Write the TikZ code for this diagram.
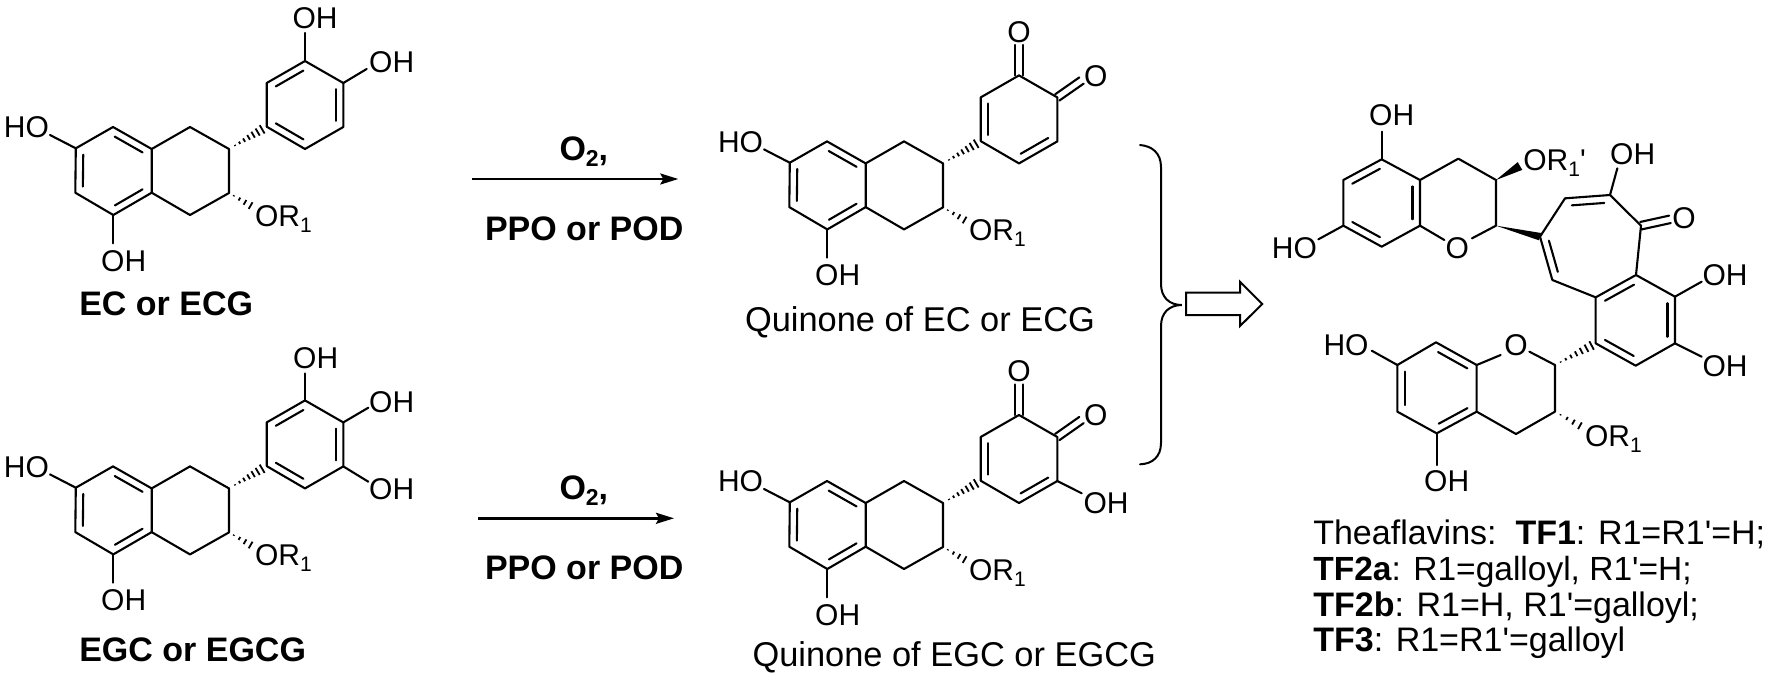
\documentclass[tikz,border=0pt]{standalone}
\usepackage{fontspec}
\usetikzlibrary{calc,arrows.meta}
\newfontfamily\lib{Liberation Sans}
\newcommand\bd[2]{\draw[bond] (#1)--(#2);}
\newcommand\ib[2]{\draw[bond] ($(#1)!.14!(#2)!7.5pt!90:(#2)$)--($(#2)!.14!(#1)!7.5pt!-90:(#1)$);}
\newcommand\dbo[2]{\draw[bond] ($(#1)!3.8pt!90:(#2)$)--($(#2)!3.8pt!-90:(#1)$);\draw[bond] ($(#1)!3.8pt!-90:(#2)$)--($(#2)!3.8pt!90:(#1)$);}
% #1 from, #2 to, #3 start frac, #4 end frac, #5 intervals, #6 max half width (pt)
\newcommand\hashw[6]{\foreach \i in {0,...,#5}{%
  \pgfmathsetmacro\tt{#3+(#4-#3)*\i/#5}%
  \pgfmathsetmacro\ww{0.6+(#6-0.6)*\i/#5}%
  \draw[hashl] ($(#1)!\tt!(#2)!\ww pt!90:(#2)$)--($(#1)!\tt!(#2)!\ww pt!-90:(#2)$);}}
\newcommand\swedge[3]{\fill[black] (#1)--($(#2)!#3!90:(#1)$)--($(#2)!#3!-90:(#1)$)--cycle;}
\newcommand\core[2]{%
 \begin{scope}[shift={#1}]
  \coordinate (a1) at (75.8,148.3); \coordinate (a2) at (113,127); \coordinate (a3) at (151.7,149);
  \coordinate (a4) at (151.7,192.7); \coordinate (a5) at (113.3,215); \coordinate (a6) at (75.3,192.7);
  \coordinate (r1) at (190,127); \coordinate (r2) at (229,149); \coordinate (r3) at (229,193); \coordinate (r4) at (190,215);
  \coordinate (c1) at (266.7,126.7); \coordinate (c2) at (266.7,83); \coordinate (c3) at (305,61);
  \coordinate (c4) at (343.3,83); \coordinate (c5) at (343.3,127); \coordinate (c6) at (305,149);
  \coordinate (eho) at (50,135); \coordinate (eoh) at (113.3,243.3); \coordinate (eor) at (253,207);
  \node[atom] (#2ho) at (26.5,127.5) {HO};
  \node[atom] (#2oh) at (123.7,260.8) {OH};
  \node[atom,anchor=base west] (#2or) at (255,226.5) {OR\lower6pt\hbox{\fontsize{21}{21}\selectfont 1}};
 \end{scope}
 \draw[bond] (eho)--(a1)--(a6)--(a5)--(a4)--(a3)--(a2)--(a1);
 \bd{a5}{eoh}
 \draw[bond] (a3)--(r1)--(r2)--(r3)--(r4)--(a4);
 \ib{a1}{a6}\ib{a5}{a4}\ib{a3}{a2}
 \hashw{r2}{c1}{.16}{.88}{6}{4.8}
 \hashw{r3}{eor}{.2}{.9}{3}{3.8}
 \draw[bond] (c1)--(c2)--(c3)--(c4)--(c5)--(c6)--(c1);
}
\tikzset{
 bond/.style={line width=2.1pt,line cap=round,line join=round,black},
 hashl/.style={line width=1.8pt,black},
 atom/.style={inner sep=0pt,outer sep=0pt,black,font=\lib\fontsize{30}{30}\selectfont},
 lab/.style={inner sep=0pt,outer sep=0pt,anchor=base west,black,font=\lib\fontsize{34.4}{34}\selectfont},
 blab/.style={lab,font=\lib\bfseries\fontsize{34}{34}\selectfont},
 leg/.style={inner sep=0pt,outer sep=0pt,anchor=base west,black,font=\lib\fontsize{34}{34}\selectfont},
 rxn/.style={line width=2.4pt,black,-{Stealth[length=18pt,width=11pt,inset=3pt]}},
}
\begin{document}
\begin{tikzpicture}[x=1pt,y=-1pt]
\useasboundingbox (0,0) rectangle (1772,675);
\fill[white] (0,0) rectangle (1772,675);

% ---------- EC / ECG
\core{(0,0)}{ec}
\ib{c3}{c2}\ib{c5}{c4}\ib{c1}{c6}
\node[atom] (ecoh1) at (315,18) {OH};
\node[atom] (ecoh2) at (391.7,62) {OH};
\coordinate (e1) at (305,33); \coordinate (e2) at (366.7,69);
\bd{c3}{e1}\bd{c4}{e2}
\node[blab] (eclabel) at (79.3,315) {EC or ECG};

% ---------- EGC / EGCG
\core{(0,339.4)}{eg}
\ib{c3}{c2}\ib{c5}{c4}\ib{c1}{c6}
\node[atom] (egoh1) at (315.7,358) {OH};
\node[atom] (egoh2) at (391.7,402.3) {OH};
\node[atom] (egoh3) at (391.7,489) {OH};
\coordinate (e1) at (305,373.5); \coordinate (e2) at (368.3,407.7); \coordinate (e3) at (368.3,481.7);
\bd{c3}{e1}\bd{c4}{e2}\bd{c5}{e3}
\node[blab] (eglabel) at (79.3,661.7) {EGC or EGCG};

% ---------- Quinone of EC
\core{(714,14.4)}{qa}
\ib{c2}{c1}\ib{c6}{c5}
\node[atom] (qao1) at (1019,31.7) {O};
\node[atom] (qao2) at (1095.7,75.7) {O};
\coordinate (e1) at (1019,45); \coordinate (e2) at (1081.5,80.5);
\dbo{c3}{e1}\dbo{c4}{e2}
\node[lab] (qalabel) at (745,331.7) {Quinone of EC or ECG};

% ---------- Quinone of EGC
\core{(714,354)}{qb}
\ib{c2}{c1}\ib{c6}{c5}
\node[atom] (qbo1) at (1019,370.7) {O};
\node[atom] (qbo2) at (1095.7,415) {O};
\node[atom] (qboh) at (1106,502.7) {OH};
\coordinate (e1) at (1019,384.5); \coordinate (e2) at (1081.5,420); \coordinate (e3) at (1081.7,493.3);
\dbo{c3}{e1}\dbo{c4}{e2}\bd{c5}{e3}
\node[lab] (qblabel) at (752.5,666.7) {Quinone of EGC or EGCG};

% ---------- Reaction arrows
\coordinate (ar1s) at (472.3,179); \coordinate (ar1e) at (678.3,179);
\draw[rxn] (ar1s)--(ar1e);
\node[blab] (o2a) at (559.5,160) {O\lower6pt\hbox{\fontsize{23}{23}\selectfont 2},};
\node[blab] (ppoa) at (485,240) {PPO or POD};
\coordinate (ar2s) at (478.3,518.3); \coordinate (ar2e) at (674,518.3);
\draw[rxn] (ar2s)--(ar2e);
\node[blab] (o2b) at (559.5,499.3) {O\lower6pt\hbox{\fontsize{23}{23}\selectfont 2},};
\node[blab] (ppob) at (485,579.3) {PPO or POD};

% ---------- Brace and open arrow
\draw[line width=2pt,line cap=round,black] (1140,145) .. controls (1152,146) and (1161,153) .. (1161,167)
  -- (1161,284) .. controls (1161,297) and (1169,305) .. (1181.7,305)
  .. controls (1169,305) and (1161,313) .. (1161,326)
  -- (1161,443) .. controls (1161,457) and (1152,464) .. (1140,464.3);
\draw[line width=2pt,line join=miter,black,fill=white] (1186,292.7)--(1240,292.7)--(1240,281.7)--(1262.3,304)--(1240,326)--(1240,315)--(1186,315)--cycle;

% ---------- Theaflavin
\begin{scope}[x=0.33333pt,y=-0.33333pt,shift={(1260pt,-80pt)}]
 \coordinate (u1) at (365,238); \coordinate (u2) at (250,300); \coordinate (u3) at (250,437);
 \coordinate (u4) at (365,500); \coordinate (u5) at (480,437); \coordinate (u6) at (480,300);
 \coordinate (p1) at (595,236); \coordinate (p2) at (708,300); \coordinate (p3) at (708,437);
 \coordinate (po1) at (553,480); \coordinate (po2) at (636,475);
 \coordinate (t1) at (840,470); \coordinate (t2) at (915,355); \coordinate (t3) at (1050,345);
 \coordinate (t4) at (1143,437); \coordinate (t5) at (1128,585); \coordinate (t6) at (1007,652); \coordinate (t7) at (877,600);
 \coordinate (b1) at (1245,650); \coordinate (b2) at (1245,790); \coordinate (b3) at (1127,857); \coordinate (b4) at (1007,790);
 \coordinate (q1) at (885,855); \coordinate (q2) at (885,995); \coordinate (q3) at (768,1062);
 \coordinate (q4) at (650,995); \coordinate (q5) at (650,855); \coordinate (q6) at (528,787);
 \coordinate (q7) at (412,855); \coordinate (q8) at (412,995); \coordinate (q9) at (530,1060);
 \coordinate (qo1) at (722,825); \coordinate (qo2) at (808,815);
 \coordinate (x1) at (365,155); \coordinate (x2) at (175,478); \coordinate (x3) at (780,258);
 \coordinate (x4) at (1072,265); \coordinate (x5) at (1230,418); \coordinate (x6) at (1325,605);
 \coordinate (x7) at (1325,830); \coordinate (x8) at (335,812); \coordinate (x9) at (530,1155); \coordinate (x10) at (968,1042);
 \node[atom] (tfoh1) at (395,107) {OH};
 \node[atom] (tfho1) at (103,505) {HO};
 \node[atom] (tfo1) at (592,505) {O};
 \node[atom,anchor=base west] (tfor1) at (790,271) {OR\lower6pt\hbox{\fontsize{21}{21}\selectfont 1}'};
 \node[atom] (tfoh2) at (1118,222) {OH};
 \node[atom] (tfo2) at (1272,415) {O};
 \node[atom] (tfoh3) at (1395,587) {OH};
 \node[atom] (tfoh4) at (1395,860) {OH};
 \node[atom] (tfho2) at (258,795) {HO};
 \node[atom] (tfo3) at (768,795) {O};
 \node[atom] (tfoh5) at (560,1205) {OH};
 \node[atom,anchor=base west] (tfor2) at (975,1098) {OR\lower6pt\hbox{\fontsize{21}{21}\selectfont 1}};
\end{scope}
\draw[bond] (u1)--(u2)--(u3)--(u4)--(u5)--(u6)--(u1);
\ib{u1}{u2}\ib{u3}{u4}\ib{u5}{u6}
\draw[bond] (u6)--(p1)--(p2)--(p3)--(po2); \bd{u5}{po1}
\bd{u1}{x1}\bd{u3}{x2}
\swedge{p2}{x3}{4.5pt}
\swedge{p3}{t1}{3.8pt}
\draw[bond] (t1)--(t2)--(t3)--(t4)--(t5)--(t6)--(t7)--(t1);
\ib{t1}{t7}\ib{t3}{t2}
\bd{t3}{x4}\dbo{t4}{x5}
\draw[bond] (t5)--(b1)--(b2)--(b3)--(b4)--(t6);
\ib{t5}{t6}\ib{b4}{b3}\ib{b2}{b1}
\bd{b1}{x6}\bd{b2}{x7}
\hashw{q1}{b4}{.14}{.9}{6}{4.8}
\draw[bond] (qo2)--(q1)--(q2)--(q3)--(q4)--(q5)--(qo1);
\draw[bond] (q5)--(q6)--(q7)--(q8)--(q9)--(q4);
\ib{q7}{q8}\ib{q9}{q4}\ib{q5}{q6}
\bd{q7}{x8}\bd{q9}{x9}
\hashw{q2}{x10}{.2}{.9}{3}{3.8}

% ---------- Legend
\node[leg] (l1) at (1313.3,544.3) {Theaflavins:\ \ \textbf{TF1}: R1=R1'=H;};
\node[leg,font=\lib\fontsize{33.5}{34}\selectfont] (l2) at (1313.3,580) {\textbf{TF2a}: R1=galloyl, R1'=H;};
\node[leg] (l3) at (1313.3,616) {\textbf{TF2b}: R1=H, R1'=galloyl;};
\node[leg] (l4) at (1313.3,651.7) {\textbf{TF3}: R1=R1'=galloyl};
\end{tikzpicture}
\end{document}
